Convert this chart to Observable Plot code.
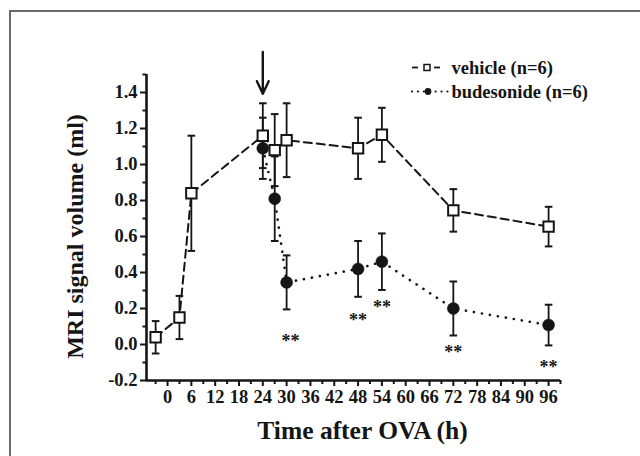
<!DOCTYPE html>
<html><head><meta charset="utf-8">
<script src="https://cdn.jsdelivr.net/npm/d3@7"></script>
<script src="https://cdn.jsdelivr.net/npm/@observablehq/plot@0.6"></script>
<style>
html,body{margin:0;padding:0;background:#fff;width:640px;height:456px;overflow:hidden;}
#wrap{position:relative;width:640px;height:456px;}
#chart svg{position:absolute;left:0;top:0;}
#legend{position:absolute;left:0;top:0;pointer-events:none;}
#frame{position:absolute;left:9px;top:10px;width:700px;height:500px;border:2px solid #6a6a6a;pointer-events:none;}
</style></head><body>
<div id="wrap"><div id="chart"></div><svg id="legend" width="640" height="456"></svg><div id="frame"></div></div>
<script>
// ---- data ----
const vehicleTime = [-3, 3, 6, 24, 27, 30, 48, 54, 72, 96];
const vehicleMean = [0.04, 0.15, 0.84, 1.16, 1.08, 1.135, 1.09, 1.165, 0.745, 0.655];
const vehicleSem  = [0.09, 0.12, 0.32, 0.18, 0.20, 0.205, 0.17, 0.15, 0.118, 0.11];
const budTime = [24, 27, 30, 48, 54, 72, 96];
const budMean = [1.09, 0.81, 0.345, 0.42, 0.46, 0.20, 0.108];
const budSem  = [0.17, 0.235, 0.15, 0.155, 0.157, 0.15, 0.113];
const starTime = [31, 48, 54, 72, 96];
const starY = [0.04, 0.158, 0.229, -0.02, -0.106];
const starText = "**";
const xTickLabels = [0, 6, 12, 18, 24, 30, 36, 42, 48, 54, 60, 66, 72, 78, 84, 90, 96];
const xMinorTicks = [-3, 3, 9, 15, 21, 27, 33, 39, 45, 51, 57, 63, 69, 75, 81, 87, 93, 99];
const yTickLabels = [-0.2, 0.0, 0.2, 0.4, 0.6, 0.8, 1.0, 1.2, 1.4];
const yMinorTicks = [-0.1, 0.1, 0.3, 0.5, 0.7, 0.9, 1.1, 1.3, 1.5];
const xDomain = [-5.3, 99];
const yDomain = [-0.2, 1.5];
const arrowTime = [24];
const arrowFrom = [1.625];
const arrowTo = [1.393];
const seriesNames = ["vehicle (n=6)", "budesonide (n=6)"];
const xTitle = "Time after OVA (h)";
const yTitle = "MRI signal volume (ml)";

// ---- tables ----
const vehicle = vehicleTime.map((t, i) => ({time: t, mean: vehicleMean[i], lo: vehicleMean[i] - vehicleSem[i], hi: vehicleMean[i] + vehicleSem[i]}));
const bud = budTime.map((t, i) => ({time: t, mean: budMean[i], lo: budMean[i] - budSem[i], hi: budMean[i] + budSem[i]}));
const stars = starTime.map((t, i) => ({time: t, y: starY[i]}));
const arrows = arrowTime.map((t, i) => ({time: t, from: arrowFrom[i], to: arrowTo[i]}));

const capSymbol = {draw(ctx, size) { const r = Math.sqrt(size / Math.PI); ctx.moveTo(-r, 0); ctx.lineTo(r, 0); }};
const squareSymbol = {draw(ctx, size) { const r = Math.sqrt(size / Math.PI); ctx.rect(-r, -r, 2 * r, 2 * r); }};
const ink = "#151515";
const font = "'Liberation Serif', 'Times New Roman', serif";

const plot = Plot.plot({
  width: 640, height: 456,
  marginLeft: 146, marginRight: 80, marginTop: 74, marginBottom: 76,
  x: {domain: xDomain},
  y: {domain: yDomain},
  style: {fontFamily: font, fontWeight: "bold", color: ink, background: "transparent"},
  marks: [
    Plot.line(bud, {x: "time", y: "mean", stroke: ink, strokeWidth: 2.6, strokeDasharray: "0.1,8", strokeLinecap: "round"}),
    Plot.line(vehicle, {x: "time", y: "mean", stroke: ink, strokeWidth: 2, strokeDasharray: "8,5"}),
    Plot.ruleX(bud, {x: "time", y1: "lo", y2: "hi", stroke: ink, strokeWidth: 1.8}),
    Plot.dot(bud, {x: "time", y: "lo", symbol: capSymbol, r: 3.8, stroke: ink, strokeWidth: 2}),
    Plot.dot(bud, {x: "time", y: "hi", symbol: capSymbol, r: 3.8, stroke: ink, strokeWidth: 2}),
    Plot.ruleX(vehicle, {x: "time", y1: "lo", y2: "hi", stroke: ink, strokeWidth: 1.8}),
    Plot.dot(vehicle, {x: "time", y: "lo", symbol: capSymbol, r: 3.8, stroke: ink, strokeWidth: 2}),
    Plot.dot(vehicle, {x: "time", y: "hi", symbol: capSymbol, r: 3.8, stroke: ink, strokeWidth: 2}),
    Plot.dot(bud, {x: "time", y: "mean", r: 6, fill: ink, stroke: ink, strokeWidth: 0.5}),
    Plot.dot(vehicle, {x: "time", y: "mean", symbol: squareSymbol, r: 5.2, fill: "white", stroke: ink, strokeWidth: 2}),
    Plot.text(stars, {x: "time", y: "y", text: () => starText, fontSize: 18, fill: ink, dy: 4}),
    Plot.arrow(arrows, {x1: "time", x2: "time", y1: "from", y2: "to", stroke: ink, strokeWidth: 2.4, headLength: 12, headAngle: 50}),
    Plot.axisX({ticks: xMinorTicks, tickSize: 4, tickFormat: () => "", strokeWidth: 2, stroke: ink, label: null}),
    Plot.axisX({ticks: xTickLabels, tickSize: 6, tickPadding: 3, tickFormat: d => String(d), fontSize: 18.5, strokeWidth: 2, stroke: ink, label: null}),
    Plot.axisY({ticks: yMinorTicks, tickSize: 3.5, tickFormat: () => "", strokeWidth: 2, stroke: ink, label: null}),
    Plot.axisY({ticks: yTickLabels, tickSize: 6, tickPadding: 3, tickFormat: d => d.toFixed(1), fontSize: 18.5, strokeWidth: 2, stroke: ink, label: null}),
    Plot.ruleX([xDomain[0]], {stroke: ink, strokeWidth: 2.6}),
    Plot.ruleY([yDomain[0]], {stroke: ink, strokeWidth: 2.6}),
    Plot.text([xTitle], {frameAnchor: "bottom", dx: 9, dy: 58, fontSize: 25.5, fill: ink}),
    Plot.text([yTitle], {frameAnchor: "left", textAnchor: "middle", rotate: -90, dx: -71, dy: 9, fontSize: 24, fill: ink})
  ]
});
document.getElementById("chart").appendChild(plot);

// ---- legend overlay ----
const lg = d3.select("#legend");
const rows = [67.5, 91.5];
// vehicle sample
lg.append("line").attr("x1", 412).attr("x2", 418).attr("y1", rows[0]).attr("y2", rows[0]).attr("stroke", ink).attr("stroke-width", 1.8);
lg.append("line").attr("x1", 434).attr("x2", 440).attr("y1", rows[0]).attr("y2", rows[0]).attr("stroke", ink).attr("stroke-width", 1.8);
lg.append("rect").attr("x", 424).attr("y", rows[0] - 3).attr("width", 6).attr("height", 6).attr("fill", "white").attr("stroke", ink).attr("stroke-width", 1.5);
// budesonide sample
lg.append("line").attr("x1", 412).attr("x2", 448).attr("y1", rows[1]).attr("y2", rows[1]).attr("stroke", ink).attr("stroke-width", 2.2).attr("stroke-dasharray", "0.1,5.8").attr("stroke-linecap", "round");
lg.append("circle").attr("cx", 428).attr("cy", rows[1]).attr("r", 3.4).attr("fill", ink);
seriesNames.forEach((s, i) => {
  lg.append("text").attr("x", 451.5).attr("y", rows[i]).attr("dy", "0.34em")
    .attr("font-family", font).attr("font-weight", "bold").attr("font-size", 18.5).attr("fill", ink).text(s);
});
</script>
</body></html>
